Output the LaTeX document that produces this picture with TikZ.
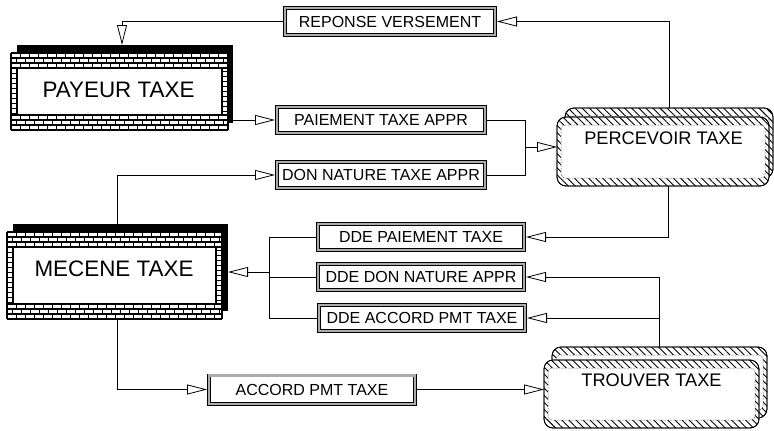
\documentclass[tikz,border=0pt]{standalone}
\usepackage{fontspec}
\setmainfont{Liberation Sans}
\usetikzlibrary{arrows.meta,patterns.meta}
\tikzset{
  conn/.style={line width=0.8pt},
  arr/.style={conn,-{Triangle[open,length=20pt,width=10pt,line width=0.8pt]}},
  area/.style={rectangle,draw=none,inner sep=0pt,outer sep=0pt},
  lbl/.style={rectangle,draw=black,double=gray!65,double distance=2.4pt,line width=0.6pt,
    fill=white,inner sep=0pt,outer sep=1.8pt,font=\fontsize{16}{16}\selectfont},
  bigtxt/.style={inner sep=0pt,font=\fontsize{22.4}{22.4}\selectfont},
  midtxt/.style={inner sep=0pt,font=\fontsize{18.2}{18.2}\selectfont},
  bk/.style={line width=1.1pt,black},
}
\newcommand\brickfront[4]{%
  \fill[white] (#1,#2) rectangle (#3,#4);
  \foreach \d in {0,5,10,15} {
    \draw[bk] (#1,#2+\d) -- (#3,#2+\d);
    \draw[bk] (#1,#4-\d) -- (#3,#4-\d);
  }
  \foreach \d/\ph in {2.5/0,7.5/4.5,12.5/0} {
    \draw[line width=5pt,dash pattern=on 1.3pt off 7.7pt,dash phase=\ph pt] (#1,#2+\d) -- (#3,#2+\d);
    \draw[line width=5pt,dash pattern=on 1.3pt off 7.7pt,dash phase=\ph pt] (#1,#4-\d) -- (#3,#4-\d);
  }
  \draw[bk] (#1,#2) -- (#1,#4) (#3,#2) -- (#3,#4) (#1+6,#2+15) -- (#1+6,#4-15) (#3-6,#2+15) -- (#3-6,#4-15);
  \draw[line width=6pt,dash pattern=on 1.2pt off 3.8pt] (#1+3,#2+15) -- (#1+3,#4-15);
  \draw[line width=6pt,dash pattern=on 1.2pt off 3.8pt,dash phase=2.5pt] (#3-3,#2+15) -- (#3-3,#4-15);
}
\newcommand\hatchbox[4]{%
  \draw[line width=0.8pt,fill=white,rounded corners=9pt] (#1,#2) rectangle (#3,#4);
  \fill[pattern={Lines[angle=-45,distance=5pt,line width=0.9pt]},rounded corners=9pt] (#1,#2) rectangle (#3,#4);
  \draw[line width=0.5pt,densely dotted,fill=white,rounded corners=4pt] (#1+4,#2+8) rectangle (#3-4,#4-8);
  \draw[line width=0.8pt,rounded corners=9pt] (#1,#2) rectangle (#3,#4);
}
\begin{document}
\begin{tikzpicture}[x=1pt,y=-1pt]
\useasboundingbox (0,0) rectangle (774,431);

% PAYEUR TAXE
\fill[black] (17,45) rectangle (233,123);
\node[area,minimum width=216pt,minimum height=78pt] (payS) at (125,84) {};
\brickfront{11}{53}{228}{130}
\node[area,minimum width=217pt,minimum height=77pt] (pay) at (119.5,91.5) {};
\node[bigtxt] (payT) at (118.5,89.5) {PAYEUR TAXE};

% MECENE TAXE
\fill[black] (13,224) rectangle (228,311);
\node[area,minimum width=215pt,minimum height=87pt] (mecS) at (120.5,267.5) {};
\brickfront{7}{232}{222}{319}
\node[area,minimum width=215pt,minimum height=87pt] (mec) at (114.5,275.5) {};
\node[bigtxt] (mecT) at (114,269) {MECENE TAXE};

% PERCEVOIR TAXE
\hatchbox{565}{108}{773}{178}
\node[area,minimum width=208pt,minimum height=70pt] (percB) at (669,143) {};
\hatchbox{557}{117}{769}{186}
\node[area,minimum width=212pt,minimum height=69pt] (perc) at (663,151.5) {};
\node[midtxt] (percT) at (663.5,138.5) {PERCEVOIR TAXE};

% TROUVER TAXE
\hatchbox{552}{347}{767}{418}
\node[area,minimum width=215pt,minimum height=71pt] (trB) at (659.5,382.5) {};
\hatchbox{544}{360}{759}{428}
\node[area,minimum width=215pt,minimum height=68pt] (tr) at (651.5,394) {};
\node[midtxt] (trT) at (651.5,380) {TROUVER TAXE};

% flow labels
\node[lbl,minimum width=210.4pt,minimum height=27.4pt] (rep) at (390,21.5) {REPONSE VERSEMENT};
\node[lbl,minimum width=208.4pt,minimum height=26.4pt] (pai) at (381,120) {PAIEMENT TAXE APPR};
\node[lbl,minimum width=208.4pt,minimum height=26.4pt] (don) at (381,175) {DON NATURE TAXE APPR};
\node[lbl,minimum width=206.4pt,minimum height=26.4pt] (dp) at (421,237) {DDE PAIEMENT TAXE};
\node[lbl,minimum width=206.4pt,minimum height=26.4pt] (dd) at (421,277) {DDE DON NATURE APPR};
\node[lbl,minimum width=206.4pt,minimum height=26.4pt] (da) at (422,318) {DDE ACCORD PMT TAXE};
\node[lbl,minimum width=206.4pt,minimum height=28.4pt] (acc) at (312,389.5) {ACCORD PMT TAXE};

% junctions
\coordinate (j1) at (525,147);
\coordinate (j2) at (269,272);

% connectors
\draw[arr] (percB.north) |- (rep.east);
\draw[arr] (rep.west) -| ([xshift=-3pt]payS.north);
\draw[arr] (payS.east |- pai.west) -- (pai.west);
\draw[conn] (pai.east) -| (j1);
\draw[conn] (don.east) -| (j1);
\draw[arr] (j1) -- (perc.west |- j1);
\draw[arr] ([xshift=-3.5pt]mecS.north) |- (don.west);
\draw[arr] ([xshift=5pt]perc.south) |- (dp.east);
\draw[arr] (trB.north) |- (dd.east);
\draw[arr] (trB.north) |- (da.east);
\draw[conn] (dp.west) -| (j2);
\draw[conn] (da.west) -| (j2);
\draw[conn] (dd.west) -- (dd.west -| j2);
\draw[arr] (j2) -- (mecS.east |- j2);
\draw[arr] ([xshift=2.5pt]mec.south) |- (acc.west);
\draw[arr] (acc.east) -- (tr.west |- acc.east);
\end{tikzpicture}
\end{document}
